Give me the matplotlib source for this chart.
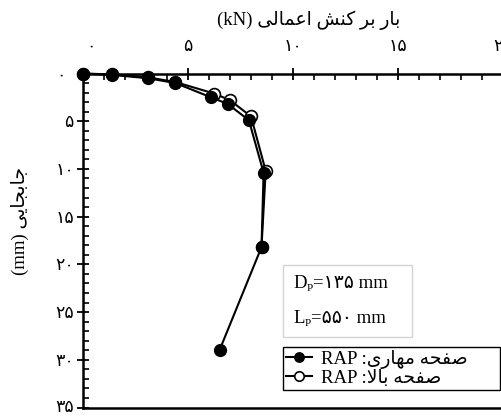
import matplotlib
matplotlib.use("Agg")
import matplotlib.pyplot as plt
from matplotlib.ticker import MultipleLocator, FixedLocator, FixedFormatter
from matplotlib.font_manager import FontProperties
from matplotlib.patches import Rectangle
from matplotlib.transforms import IdentityTransform, ScaledTranslation

# ---------------- data ----------------
load_anchor = [0, 1.4, 3.1, 4.4, 6.1, 6.9, 7.9, 8.6, 8.5, 6.5]
disp_anchor = [0, 0.15, 0.5, 1.0, 2.5, 3.2, 4.9, 10.4, 18.2, 29.0]
load_top = [0, 1.4, 3.1, 4.4, 6.25, 7.0, 8.0, 8.7, 8.5]
disp_top = [0, 0.1, 0.4, 0.9, 2.1, 2.8, 4.5, 10.2, 18.2]

x_ticks = [0, 5, 10, 15, 20]
y_ticks = [0, 5, 10, 15, 20, 25, 30, 35]

xlabel_fa = "بار بر کنش اعمالی"
ylabel_fa = "جابجایی"
legend_fa = ["صفحه مهاری", "صفحه بالا"]
dp_text = "=۱۳۵ mm"
lp_text = "=۵۵۰ mm"

# ---------------- minimal Persian shaping ----------------
FORMS = {
    'ا': ('\uFE8D', '\uFE8E', None, None),
    'ب': ('\uFE8F', '\uFE90', '\uFE91', '\uFE92'),
    'ر': ('\uFEAD', '\uFEAE', None, None),
    'ک': ('\uFB8E', '\uFB8F', '\uFB90', '\uFB91'),
    'ن': ('\uFEE5', '\uFEE6', '\uFEE7', '\uFEE8'),
    'ش': ('\uFEB5', '\uFEB6', '\uFEB7', '\uFEB8'),
    'ع': ('\uFEC9', '\uFECA', '\uFECB', '\uFECC'),
    'م': ('\uFEE1', '\uFEE2', '\uFEE3', '\uFEE4'),
    'ل': ('\uFEDD', '\uFEDE', '\uFEDF', '\uFEE0'),
    'ی': ('\uFBFC', '\uFBFD', '\uFBFE', '\uFBFF'),
    'ج': ('\uFE9D', '\uFE9E', '\uFE9F', '\uFEA0'),
    'ص': ('\uFEB9', '\uFEBA', '\uFEBB', '\uFEBC'),
    'ف': ('\uFED1', '\uFED2', '\uFED3', '\uFED4'),
    'ح': ('\uFEA1', '\uFEA2', '\uFEA3', '\uFEA4'),
    'ه': ('\uFEE9', '\uFEEA', '\uFEEB', '\uFEEC'),
}


def dual(c):
    return c in FORMS and FORMS[c][2] is not None


def shape(s):
    res = []
    n = len(s)
    i = 0
    while i < n:
        c = s[i]
        if c not in FORMS:
            res.append(c)
            i += 1
            continue
        prev = s[i - 1] if i > 0 else None
        jp = prev is not None and dual(prev)
        if c == 'ل' and i + 1 < n and s[i + 1] == 'ا':
            res.append('\uFEFC' if jp else '\uFEFB')
            i += 2
            continue
        nxt = s[i + 1] if i + 1 < n else None
        jn = dual(c) and nxt is not None and nxt in FORMS
        iso, fin, ini, med = FORMS[c]
        if jp and jn:
            res.append(med)
        elif jp:
            res.append(fin)
        elif jn:
            res.append(ini)
        else:
            res.append(iso)
        i += 1
    return ''.join(res)


def visual(s):
    return shape(s)[::-1]


def fa_digits(v):
    return str(v).translate(str.maketrans("0123456789", "۰۱۲۳۴۵۶۷۸۹"))


FAM = ['Liberation Serif', 'DejaVu Sans']

# ---------------- figure ----------------
W, H = 502, 416
fig = plt.figure(figsize=(W / 100, H / 100), dpi=100)
ax = fig.add_axes([83 / W, 1 - 407.5 / H, 420 / W, 334 / H])

ax.plot(load_top, disp_top, color='black', lw=1.5, marker='o', ms=8.5,
        mfc='white', mec='black', mew=1.2, clip_on=False, zorder=3)
ax.plot(load_anchor, disp_anchor, color='black', lw=1.5, marker='o', ms=8.5,
        mfc='black', mec='black', clip_on=False, zorder=4)

ax.set_xlim(0, 20)
ax.set_ylim(35, 0)

ax.xaxis.tick_top()
ax.xaxis.set_label_position('top')
ax.xaxis.set_major_locator(FixedLocator(x_ticks))
ax.xaxis.set_major_formatter(FixedFormatter([fa_digits(v) for v in x_ticks]))
ax.yaxis.set_major_locator(FixedLocator(y_ticks))
ax.yaxis.set_major_formatter(FixedFormatter([fa_digits(v) for v in y_ticks]))
ax.xaxis.set_minor_locator(MultipleLocator(1))
ax.yaxis.set_minor_locator(MultipleLocator(1))

ax.tick_params(which='major', direction='inout', length=9, width=1.3,
               labelsize=12.5, colors='black')
ax.tick_params(which='minor', direction='in', length=4.5, width=1.2)
ax.tick_params(axis='x', which='major', pad=9)
ax.tick_params(axis='y', which='major', pad=2)
for lab in ax.get_xticklabels() + ax.get_yticklabels():
    lab.set_fontfamily(FAM)

# the zero labels sit slightly off their ticks in the reference
xt0 = ax.xaxis.get_major_ticks()[0].label2
xt0.set_transform(xt0.get_transform() + ScaledTranslation(8 / 100, 0, fig.dpi_scale_trans))
yt0 = ax.yaxis.get_major_ticks()[0].label1
yt0.set_transform(yt0.get_transform() + ScaledTranslation(-8 / 100, 0, fig.dpi_scale_trans))
yt35 = ax.yaxis.get_major_ticks()[-1].label1
yt35.set_transform(yt35.get_transform() + ScaledTranslation(0, 2 / 100, fig.dpi_scale_trans))

for side in ['top', 'left', 'bottom']:
    ax.spines[side].set_linewidth(1.8)
    ax.spines[side].set_color('black')
ax.spines['right'].set_visible(False)

# axis labels
fig.text(309 / W, 1 - 20 / H, "(kN) " + visual(xlabel_fa), family=FAM,
         fontsize=13.5, ha='center', va='center')
fig.text(20 / W, 1 - 221 / H, "(mm) " + visual(ylabel_fa), family=FAM,
         fontsize=13.5, ha='center', va='center', rotation=90)

# parameter box
fig.add_artist(Rectangle((283 / W, 1 - 337 / H), (412 - 283) / W, (337 - 265) / H,
                         transform=fig.transFigure, facecolor='white',
                         edgecolor='#d4d4d4', lw=1.0, zorder=5))

renderer = fig.canvas.get_renderer()


def sub_text(x, y, main, sub, rest, size=13.5):
    t1 = fig.text(x, y, main, family=FAM, fontsize=size, transform=IdentityTransform(),
                  va='baseline', zorder=6)
    bb = t1.get_window_extent(renderer)
    t2 = fig.text(bb.x1, y - 3, sub, family=FAM, fontsize=size * 0.6,
                  transform=IdentityTransform(), va='baseline', zorder=6)
    bb2 = t2.get_window_extent(renderer)
    fig.text(bb2.x1, y, rest, family=FAM, fontsize=size, transform=IdentityTransform(),
             va='baseline', zorder=6)


sub_text(293, H - 288, "D", "P", dp_text)
sub_text(293, H - 323, "L", "P", lp_text)

# legend
handles = ax.get_lines()[::-1]
labels = ["RAP :" + visual(legend_fa[0]), "RAP :" + visual(legend_fa[1])]
leg = ax.legend(handles, labels, loc='upper left', mode='expand',
                bbox_to_anchor=(283 / W, 1 - 388 / H, (500 - 283) / W, 41 / H),
                bbox_transform=fig.transFigure,
                prop=FontProperties(family=FAM, size=13.5), frameon=True, fancybox=False,
                edgecolor='black', framealpha=1, handlelength=1.4, handletextpad=0.5,
                borderpad=0.15, labelspacing=0.05, borderaxespad=0, markerscale=0.8)
leg.get_frame().set_linewidth(1.0)
leg.set_zorder(6)

fig.savefig("out.png", dpi=100)
